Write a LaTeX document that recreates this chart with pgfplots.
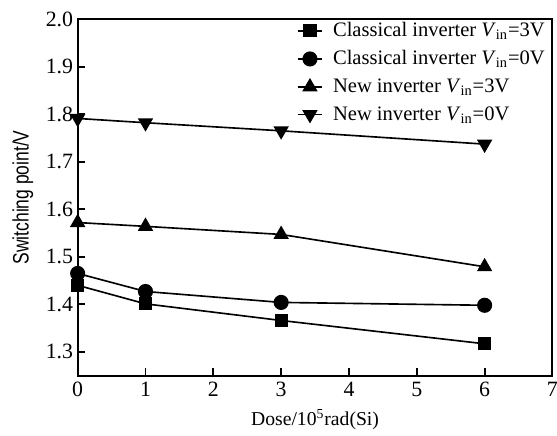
\documentclass[border=0pt]{standalone}
\usepackage{graphicx}
\usepackage{pgfplots}
\pgfplotsset{compat=1.18}
\usepackage{fontspec}
\setmainfont{Liberation Serif}
\newfontfamily\sansf{Liberation Sans}
\begin{document}
\begin{tikzpicture}[trim right=263.5pt]
\begin{axis}[
  scale only axis,
  width=261pt, height=196pt,
  xmin=0, xmax=7, ymin=1.25, ymax=2.0,
  xtick={0,1,...,7},
  ytick={1.3,1.4,...,2.0},
  yticklabel style={/pgf/number format/fixed, /pgf/number format/fixed zerofill, /pgf/number format/precision=1, xshift=1pt},
  /pgf/number format/assume math mode=true,
  tick align=inside,
  xtick pos=bottom, ytick pos=left,
  major tick length=4pt,
  axis line style={line width=1.1pt},
  every tick/.style={line width=1pt, black},
  tick label style={font=\fontsize{12}{14}\selectfont},
  xlabel style={font=\fontsize{10.8}{12}\selectfont, yshift=0pt},
  ylabel style={yshift=0pt},
  xlabel={Dose/10\textsuperscript{5}rad(Si)},
  ylabel={\scalebox{0.78}[1]{\sansf\fontsize{12.3}{14}\selectfont Switching point/V}},
  legend style={draw=none, fill=none, at={(1.0,1.0)}, anchor=north east, xshift=-1pt, yshift=1.5pt,
    font=\fontsize{11.3}{13}\selectfont, row sep=2.2pt, inner sep=1pt},
  legend cell align=left,
  legend image code/.code={
    \draw[#1, mark repeat=2, mark phase=2] plot coordinates {(0cm,0cm) (0.24cm,0cm) (0.48cm,0cm)};
    \path (0.6cm,0cm);
  },
  every axis plot/.append style={line width=0.9pt, black},
]
\addplot[mark=square*, mark size=3.2pt, mark options={solid}] coordinates {(0,1.440) (1,1.401) (3,1.366) (6,1.317)};
\addlegendentry{Classical inverter \textit{V}\textsubscript{in}=3V}
\addplot[mark=*, mark size=3.7pt] coordinates {(0,1.465) (1,1.427) (3,1.404) (6,1.398)};
\addlegendentry{Classical inverter \textit{V}\textsubscript{in}=0V}
\addplot[mark=triangle*, mark size=4pt] coordinates {(0,1.572) (1,1.564) (3,1.547) (6,1.479)};
\addlegendentry{New inverter \textit{V}\textsubscript{in}=3V}
\addplot[mark=triangle*, mark size=4pt, mark options={rotate=180}] coordinates {(0,1.791) (1,1.782) (3,1.765) (6,1.737)};
\addlegendentry{New inverter \textit{V}\textsubscript{in}=0V}
\end{axis}
\path ([yshift=10.5pt]current axis.north east);
\path ([xshift=-3.5pt]current bounding box.west);
\end{tikzpicture}
\end{document}
